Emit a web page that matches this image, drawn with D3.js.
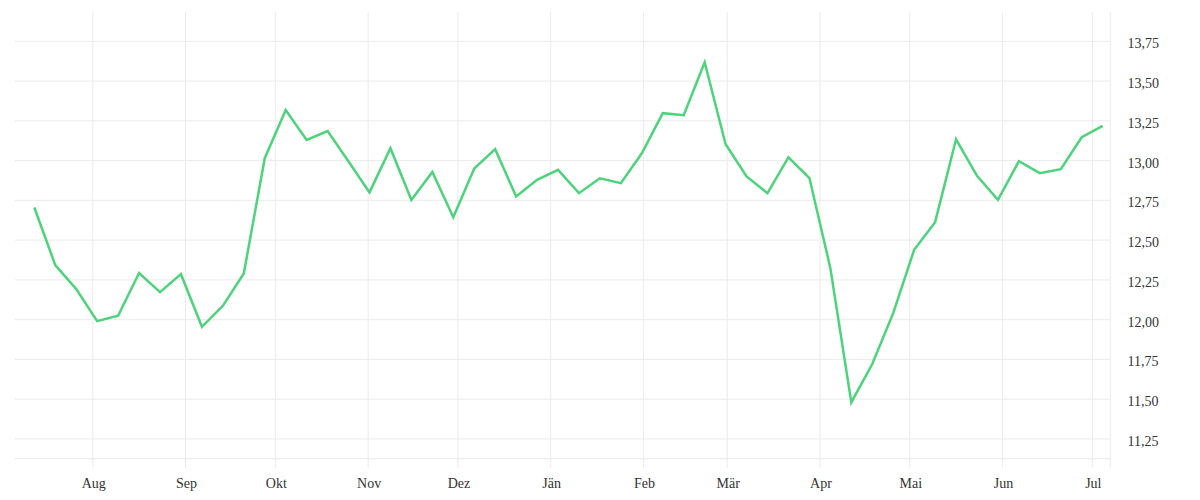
<!DOCTYPE html>
<html>
<head>
<meta charset="utf-8">
<script src="https://cdn.jsdelivr.net/npm/d3@7"></script>
<style>
  html, body { margin: 0; padding: 0; background: #fff; }
  svg { display: block; }
</style>
</head>
<body>
<svg id="chart" width="1200" height="500"></svg>
<script>
// ---- data ----
const startDate = "2022-07-12T11:00"; // first weekly observation
const values = [
  12.705, 12.343, 12.192, 11.991, 12.025, 12.293, 12.173, 12.286, 11.955, 12.087,
  12.29, 13.015, 13.318, 13.13, 13.185, 12.994, 12.80, 13.078, 12.753, 12.929,
  12.644, 12.95, 13.072, 12.774, 12.879, 12.942, 12.795, 12.889, 12.858, 13.046,
  13.298, 13.285, 13.618, 13.103, 12.90, 12.795, 13.021, 12.89, 12.324, 11.48,
  11.721, 12.041, 12.439, 12.613, 13.134, 12.904, 12.753, 12.996, 12.921, 12.946,
  13.147, 13.218
];
const monthLabels = ["Jän", "Feb", "Mär", "Apr", "Mai", "Jun", "Jul", "Aug", "Sep", "Okt", "Nov", "Dez"];
const yTicks = [11.25, 11.5, 11.75, 12.0, 12.25, 12.5, 12.75, 13.0, 13.25, 13.5, 13.75];
const xDomain = ["2022-07-06T00:00", "2023-07-07T00:00"];
const yDomain = [11.126, 13.934];

// ---- build ----
(function () {
  const parse = d3.utcParse("%Y-%m-%dT%H:%M");
  const t0 = parse(startDate);
  const data = values.map((v, i) => ({ date: d3.utcDay.offset(t0, 7 * i), value: v }));

  const svg = d3.select("#chart");
  const mLeft = 15, mRight = 1110.3, mTop = 12, mBottom = 458.7;

  const x = d3.scaleUtc().domain(xDomain.map(parse)).range([mLeft, mRight]);
  const y = d3.scaleLinear().domain(yDomain).range([mBottom, mTop]);

  const gridColor = "#ebebeb";
  const font = "'Liberation Serif', 'Times New Roman', serif";

  const g = svg.append("g");
  g.selectAll("line.h").data(yTicks).join("line")
    .attr("x1", mLeft).attr("x2", mRight)
    .attr("y1", d => y(d)).attr("y2", d => y(d))
    .attr("stroke", gridColor).attr("stroke-width", 1);
  g.append("line").attr("x1", mLeft).attr("x2", mRight)
    .attr("y1", mBottom).attr("y2", mBottom)
    .attr("stroke", gridColor).attr("stroke-width", 1);

  const months = x.ticks(d3.utcMonth.every(1)).filter(d => x(d) > mLeft + 1);
  g.selectAll("line.v").data(months).join("line")
    .attr("x1", d => x(d)).attr("x2", d => x(d))
    .attr("y1", mTop).attr("y2", mBottom + 9)
    .attr("stroke", gridColor).attr("stroke-width", 1);
  g.append("line").attr("x1", mRight).attr("x2", mRight)
    .attr("y1", mTop).attr("y2", mBottom + 9)
    .attr("stroke", gridColor).attr("stroke-width", 1);

  svg.append("g").selectAll("text").data(months).join("text")
    .attr("x", d => x(d) + 1)
    .attr("y", 488)
    .attr("text-anchor", "middle")
    .attr("font-family", font)
    .attr("font-size", 14)
    .attr("fill", "#333")
    .text(d => monthLabels[d.getUTCMonth()]);

  const fmt = d3.formatLocale({ decimal: ",", thousands: ".", grouping: [3], currency: ["", "€"] }).format(".2f");
  svg.append("g").selectAll("text").data(yTicks).join("text")
    .attr("x", 1127.5)
    .attr("y", d => y(d) + 7)
    .attr("text-anchor", "start")
    .attr("font-family", font)
    .attr("font-size", 14)
    .attr("fill", "#333")
    .text(d => fmt(d));

  const line = d3.line().x(d => x(d.date)).y(d => y(d.value));
  svg.append("path").datum(data)
    .attr("d", line)
    .attr("fill", "none")
    .attr("stroke", "#4cd37c")
    .attr("stroke-width", 2.5)
    .attr("stroke-linejoin", "miter");
})();
</script>
</body>
</html>
